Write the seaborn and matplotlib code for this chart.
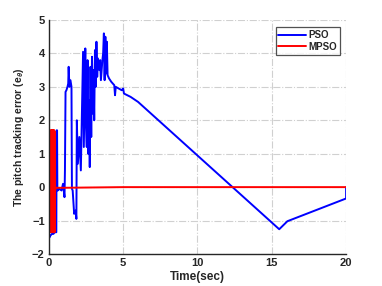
import numpy as np
import pandas as pd
import matplotlib.pyplot as plt
import seaborn as sns

# ======================= DATA ======================
pso_time = [0.0, 0.05, 0.1, 0.2, 0.3, 0.4, 0.5, 0.52, 0.55, 0.57, 0.6, 0.7, 0.85, 0.95, 1.05, 1.08,
            1.12, 1.18, 1.25, 1.3, 1.33, 1.38, 1.45, 1.52, 1.55, 1.6, 1.7, 1.8, 1.85, 1.88,
            1.95, 2.05, 2.15, 2.2, 2.3, 2.35, 2.45, 2.5, 2.55, 2.6, 2.65, 2.7, 2.75, 2.8,
            2.85, 2.9, 2.95, 3.0, 3.05, 3.1, 3.15, 3.2, 3.25, 3.3, 3.4, 3.45, 3.5, 3.6,
            3.65, 3.7, 3.75, 3.8, 3.85, 3.9, 3.95, 4.05, 4.2, 4.3, 4.4, 4.45, 4.5, 4.7,
            4.9, 5.0, 5.05, 5.5, 6.0, 15.5, 16.05, 20.0, 20.0]
pso_error = [-1.4, -1.5, -1.45, -1.4, -1.4, -1.35, -1.35, 1.7, 1.7, -0.1, -0.1, -0.05, -0.1, 0.1, -0.3, 0.5,
             2.85, 2.9, 3.0, 3.1, 3.6, 3.0, 3.2, 3.0, -0.05, -0.1, -0.8, -0.7, -0.95, 2.0,
             0.7, 1.5, 0.5, 1.7, 4.05, 1.2, 4.15, 1.8, 1.2, 3.8, 1.0, 2.6, 0.6, 3.6,
             1.5, 3.9, 2.2, 3.5, 2.0, 4.1, 3.0, 4.35, 3.3, 3.85, 3.5, 3.8, 3.2, 3.8,
             4.0, 4.6, 3.2, 4.5, 3.4, 4.35, 3.35, 3.25, 3.15, 3.1, 3.05, 2.75, 3.0, 2.95,
             2.9, 2.95, 2.8, 2.7, 2.55, -1.26, -1.02, -0.34, 0.0]

mpso_time = [0.0, 0.02, 0.04, 0.06, 0.08, 0.1, 0.12, 0.14, 0.16, 0.18, 0.2, 0.22, 0.24, 0.26,
             0.28, 0.3, 0.32, 0.34, 0.36, 0.38, 0.4, 0.42, 0.45, 1.0, 5.0, 20.0]
mpso_error = [1.55, -1.3, 1.6, -1.3, 1.55, -1.35, 1.7, -1.3, 1.7, -1.3, 1.7, -1.35, 1.7, -1.3,
              1.7, -1.35, 1.7, -1.3, 1.7, -1.35, 1.65, -0.1, -0.02, -0.02, 0.0, 0.0]

df = pd.concat([
    pd.DataFrame({'t': pso_time, 'e': pso_error, 'method': 'PSO'}),
    pd.DataFrame({'t': mpso_time, 'e': mpso_error, 'method': 'MPSO'}),
], ignore_index=True)

# ======================= PLOT ======================
sns.set_style('white')
plt.rcParams['font.family'] = ['Liberation Sans', 'DejaVu Sans']
plt.rcParams['mathtext.fontset'] = 'custom'
plt.rcParams['mathtext.rm'] = 'Liberation Sans:bold'
plt.rcParams['mathtext.it'] = 'Liberation Sans:bold:italic'

fig = plt.figure(figsize=(3.82, 2.86), dpi=100)
ax = fig.add_axes([0.128, 0.112, 0.778, 0.818])

sns.lineplot(data=df, x='t', y='e', hue='method', palette={'PSO': '#0000ff', 'MPSO': '#ff0000'},
             sort=False, estimator=None, linewidth=1.4, ax=ax)

ax.set_xlim(0, 20)
ax.set_ylim(-2, 5)
ax.set_xticks([0, 5, 10, 15, 20])
ax.set_yticks(range(-2, 6))
ax.grid(True, color='#d0d0d0', linestyle='-.', linewidth=0.8)
for s in ['top', 'right']:
    ax.spines[s].set_visible(False)
for s in ['left', 'bottom']:
    ax.spines[s].set_color('#262626')
    ax.spines[s].set_linewidth(1.0)
ax.tick_params(direction='in', length=3, width=0.8, labelsize=8, pad=3)
for lab in ax.get_xticklabels() + ax.get_yticklabels():
    lab.set_fontweight('bold')

ax.set_xlabel('Time(sec)', fontsize=8.5, fontweight='bold', labelpad=2)
ax.set_ylabel(r'The pitch tracking error (e$_\theta$)', fontsize=7.6, fontweight='bold', labelpad=2)
ax.yaxis.set_label_coords(-0.078, 0.5)

leg = ax.legend(loc='upper right', bbox_to_anchor=(0.98, 0.97), fontsize=7, frameon=True,
                fancybox=False, edgecolor='#262626', handlelength=2.8, handletextpad=0.3,
                borderpad=0.3, labelspacing=0.2, borderaxespad=0)
leg.get_frame().set_linewidth(0.9)
for t in leg.get_texts():
    t.set_fontweight('bold')

fig.savefig('out.png', dpi=100)
